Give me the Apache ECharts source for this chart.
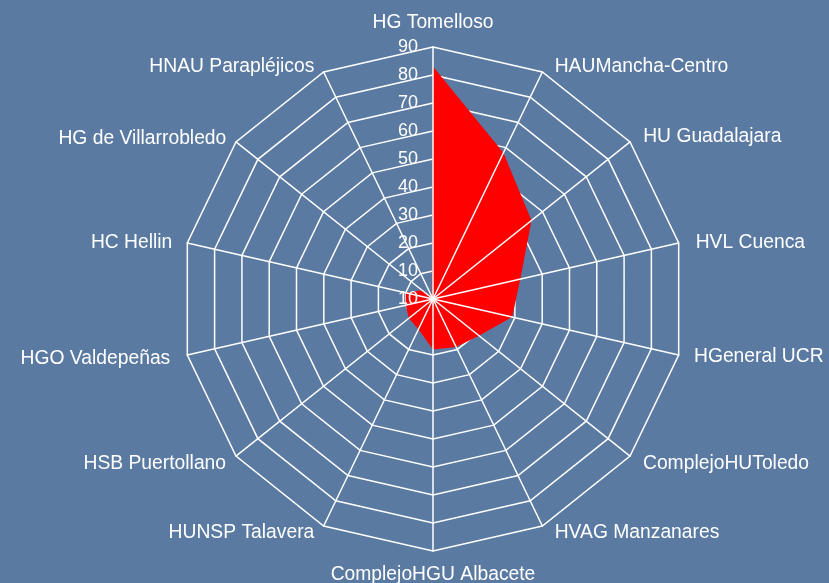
<!DOCTYPE html>
<html>
<head>
<meta charset="utf-8">
<script src="https://cdn.jsdelivr.net/npm/echarts@6/dist/echarts.min.js"></script>
<style>
html,body{margin:0;padding:0;background:#5a7aa2;}
#chart{width:829px;height:583px;}
</style>
</head>
<body>
<div id="chart"></div>
<script>
// Categories listed clockwise starting from the top
const categories = [
  'HG Tomelloso', 'HAUMancha-Centro', 'HU Guadalajara', 'HVL Cuenca',
  'HGeneral UCR', 'ComplejoHUToledo', 'HVAG Manzanares', 'ComplejoHGU Albacete',
  'HUNSP Talavera', 'HSB Puertollano', 'HGO Valdepeñas', 'HC Hellin',
  'HG de Villarrobledo', 'HNAU Parapléjicos'
];
const values = [83, 58, 45, 32, 29, 21, 19, 18, 12, 11, 10, 10, 5, 1];
const axisMax = 90;
const tickLabels = ['10', '10', '20', '30', '40', '50', '60', '70', '80', '90'];

// Name placement (style only): [gap along the spoke, horizontal padding]
const nameLayout = [
  [15, 0], [5.4, 10], [7.9, 7], [0, 17], [8.5, 7], [12.7, 3], [7.7, 9], [14, 0],
  [7.7, 6], [12.7, 0], [17.5, 0], [0, 15], [4.7, 6], [5.4, 7]
];

function nameCfg(i, k) {
  const g = nameLayout[i][0];
  const p = nameLayout[i][1];
  // k = position index counter-clockwise; left half of the chart is k 1..6
  const leftSide = k >= 1 && k <= 6;
  const pad = leftSide ? [0, p, 0, 0] : [0, 0, 0, p];
  return { nameGap: g, nameTextStyle: { padding: pad } };
}

// ECharts places radar indicators counter-clockwise; reorder to get clockwise layout
const order = [0].concat(categories.map((_, i) => i).slice(1).reverse());

const font = '"Liberation Sans", Arial, sans-serif';
const common = {
  center: [433, 299],
  radius: 252,
  startAngle: 90,
  shape: 'polygon',
  splitNumber: 9
};

const chart = echarts.init(document.getElementById('chart'));
chart.setOption({
  backgroundColor: '#5a7aa2',
  animation: false,
  radar: [
    Object.assign({}, common, {
      z: 1,
      indicator: order.map((i, k) => Object.assign({ name: categories[i], min: 0, max: axisMax }, nameCfg(i, k))),
      axisName: { color: '#ffffff', fontSize: 19.3, fontFamily: font },
      splitLine: { lineStyle: { color: '#ffffff', width: 1.5 } },
      splitArea: { show: false },
      axisLine: { show: false },
      axisLabel: { show: false }
    }),
    Object.assign({}, common, {
      z: 5,
      indicator: order.map((i, k) => ({
        name: categories[i], min: 0, max: axisMax,
        axisLabel: k === 0 ? {
          show: true, color: '#ffffff', fontSize: 18, fontFamily: font, margin: 15,
          formatter: v => tickLabels[Math.round(v / 10)]
        } : { show: false }
      })),
      axisName: { show: false },
      splitLine: { show: false },
      splitArea: { show: false },
      axisLine: { show: true, lineStyle: { color: '#ffffff', width: 1.5 } },
      axisTick: { show: false },
      axisLabel: { show: false }
    })
  ],
  series: [{
    type: 'radar',
    radarIndex: 0,
    z: 3,
    symbol: 'none',
    lineStyle: { width: 0, color: '#ff0000' },
    areaStyle: { color: '#ff0000', opacity: 1 },
    data: [{ value: order.map(i => values[i]), name: 'Serie' }]
  }]
});
</script>
</body>
</html>
